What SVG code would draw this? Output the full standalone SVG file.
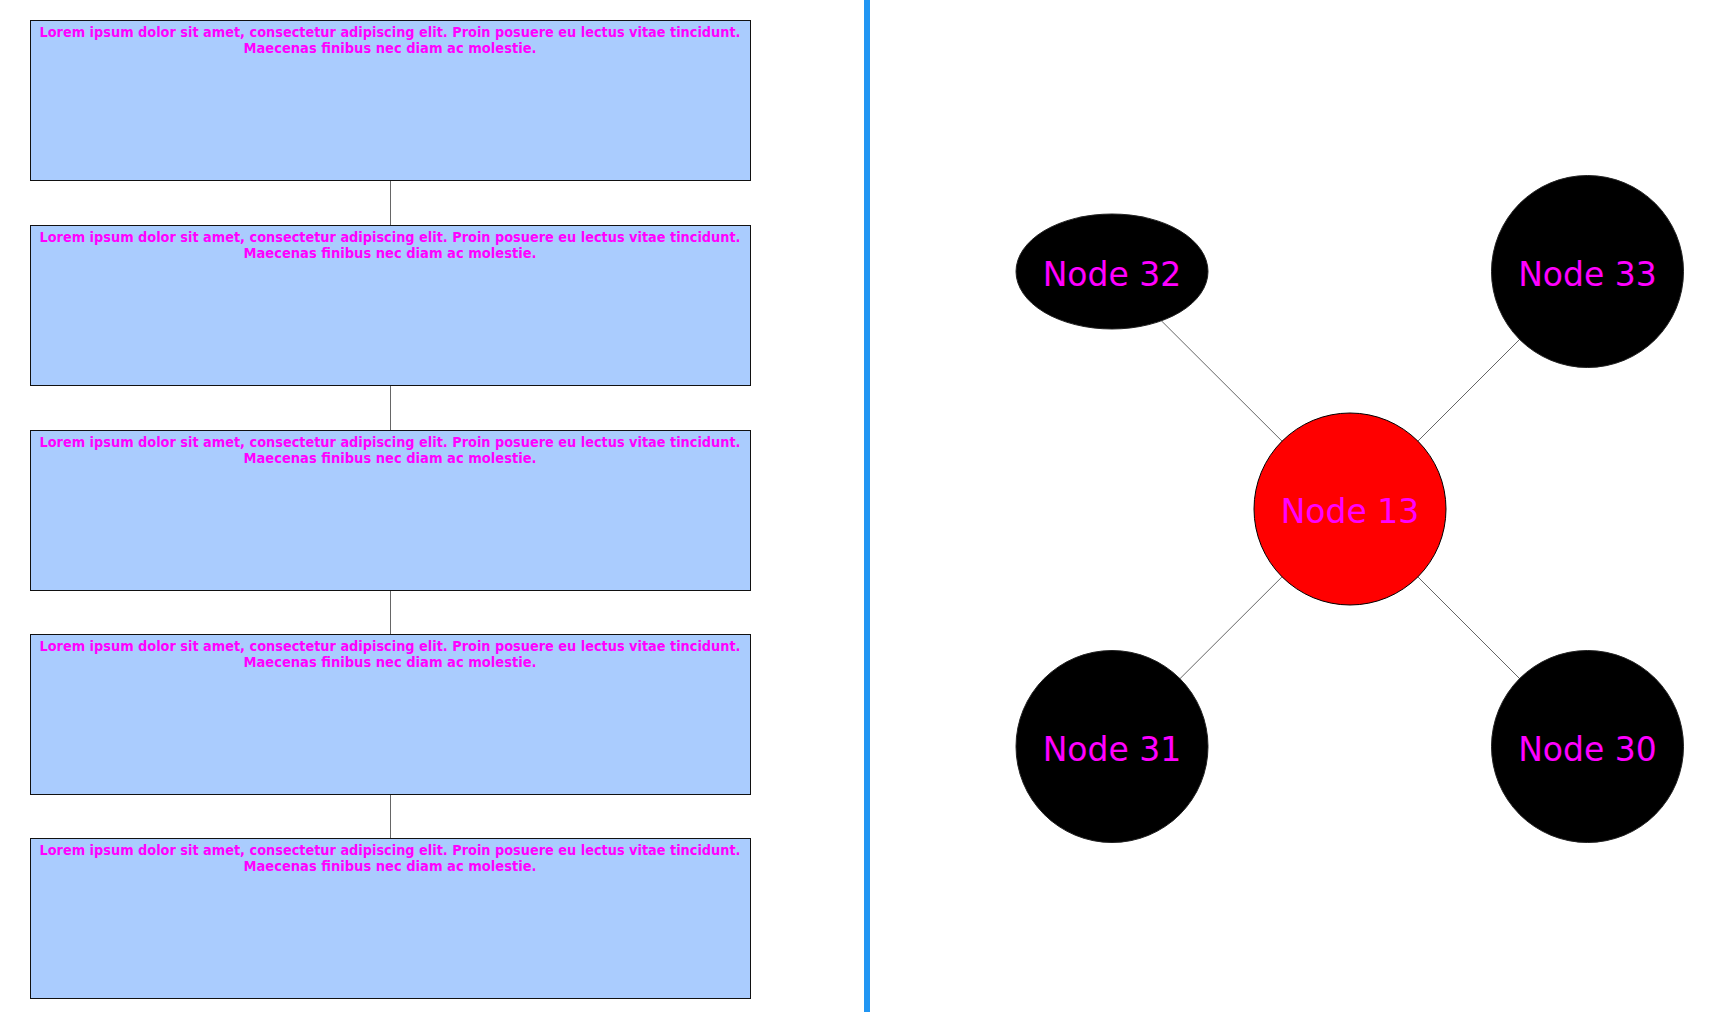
<svg xmlns="http://www.w3.org/2000/svg" width="1718" height="1012" viewBox="0 0 1718 1012">
<style>
.box{fill:#aaccfe;stroke:#111;stroke-width:1}
.bt{font-family:"DejaVu Sans",Verdana,sans-serif;font-weight:bold;font-size:14px;fill:#ff00ff;text-anchor:middle}
.con{stroke:#666;stroke-width:1;fill:none}
.nt{font-family:"DejaVu Sans",sans-serif;font-size:33px;fill:#ff00ff;text-anchor:middle}
.blk{fill:#000;stroke:#222;stroke-width:1}
</style>
<rect width="1718" height="1012" fill="#fff"/>
<g id="connectors">
<line class="con" x1="390.5" y1="180" x2="390.5" y2="225"/>
<line class="con" x1="390.5" y1="385" x2="390.5" y2="430"/>
<line class="con" x1="390.5" y1="590" x2="390.5" y2="634"/>
<line class="con" x1="390.5" y1="794" x2="390.5" y2="838"/>
<line class="con" x1="1112" y1="271.5" x2="1350" y2="509"/>
<line class="con" x1="1587.5" y1="271.5" x2="1350" y2="509"/>
<line class="con" x1="1112" y1="746.5" x2="1350" y2="509"/>
<line class="con" x1="1587.5" y1="746.5" x2="1350" y2="509"/>
</g>
<rect id="divider" x="864" y="0" width="6" height="1012" fill="#2196f3"/>
<g id="box1">
<rect class="box" x="30.5" y="20.5" width="720" height="160"/>
<text class="bt" x="390" y="36.5" textLength="701" lengthAdjust="spacingAndGlyphs">Lorem ipsum dolor sit amet, consectetur adipiscing elit. Proin posuere eu lectus vitae tincidunt.</text>
<text class="bt" x="390" y="53" textLength="293" lengthAdjust="spacingAndGlyphs">Maecenas finibus nec diam ac molestie.</text>
</g>
<g id="box2">
<rect class="box" x="30.5" y="225.5" width="720" height="160"/>
<text class="bt" x="390" y="241.5" textLength="701" lengthAdjust="spacingAndGlyphs">Lorem ipsum dolor sit amet, consectetur adipiscing elit. Proin posuere eu lectus vitae tincidunt.</text>
<text class="bt" x="390" y="258" textLength="293" lengthAdjust="spacingAndGlyphs">Maecenas finibus nec diam ac molestie.</text>
</g>
<g id="box3">
<rect class="box" x="30.5" y="430.5" width="720" height="160"/>
<text class="bt" x="390" y="446.5" textLength="701" lengthAdjust="spacingAndGlyphs">Lorem ipsum dolor sit amet, consectetur adipiscing elit. Proin posuere eu lectus vitae tincidunt.</text>
<text class="bt" x="390" y="463" textLength="293" lengthAdjust="spacingAndGlyphs">Maecenas finibus nec diam ac molestie.</text>
</g>
<g id="box4">
<rect class="box" x="30.5" y="634.5" width="720" height="160"/>
<text class="bt" x="390" y="650.5" textLength="701" lengthAdjust="spacingAndGlyphs">Lorem ipsum dolor sit amet, consectetur adipiscing elit. Proin posuere eu lectus vitae tincidunt.</text>
<text class="bt" x="390" y="667" textLength="293" lengthAdjust="spacingAndGlyphs">Maecenas finibus nec diam ac molestie.</text>
</g>
<g id="box5">
<rect class="box" x="30.5" y="838.5" width="720" height="160"/>
<text class="bt" x="390" y="854.5" textLength="701" lengthAdjust="spacingAndGlyphs">Lorem ipsum dolor sit amet, consectetur adipiscing elit. Proin posuere eu lectus vitae tincidunt.</text>
<text class="bt" x="390" y="871" textLength="293" lengthAdjust="spacingAndGlyphs">Maecenas finibus nec diam ac molestie.</text>
</g>
<g id="node32">
<ellipse class="blk" cx="1112" cy="271.5" rx="96" ry="57.5"/>
<text class="nt" x="1112" y="285.5">Node 32</text>
</g>
<g id="node33">
<circle class="blk" cx="1587.5" cy="271.5" r="96"/>
<text class="nt" x="1587.5" y="285.5">Node 33</text>
</g>
<g id="node13">
<circle cx="1350" cy="509" r="96" fill="#ff0000" stroke="#000" stroke-width="1"/>
<text class="nt" x="1350" y="523">Node 13</text>
</g>
<g id="node31">
<circle class="blk" cx="1112" cy="746.5" r="96"/>
<text class="nt" x="1112" y="760.5">Node 31</text>
</g>
<g id="node30">
<circle class="blk" cx="1587.5" cy="746.5" r="96"/>
<text class="nt" x="1587.5" y="760.5">Node 30</text>
</g>
</svg>
